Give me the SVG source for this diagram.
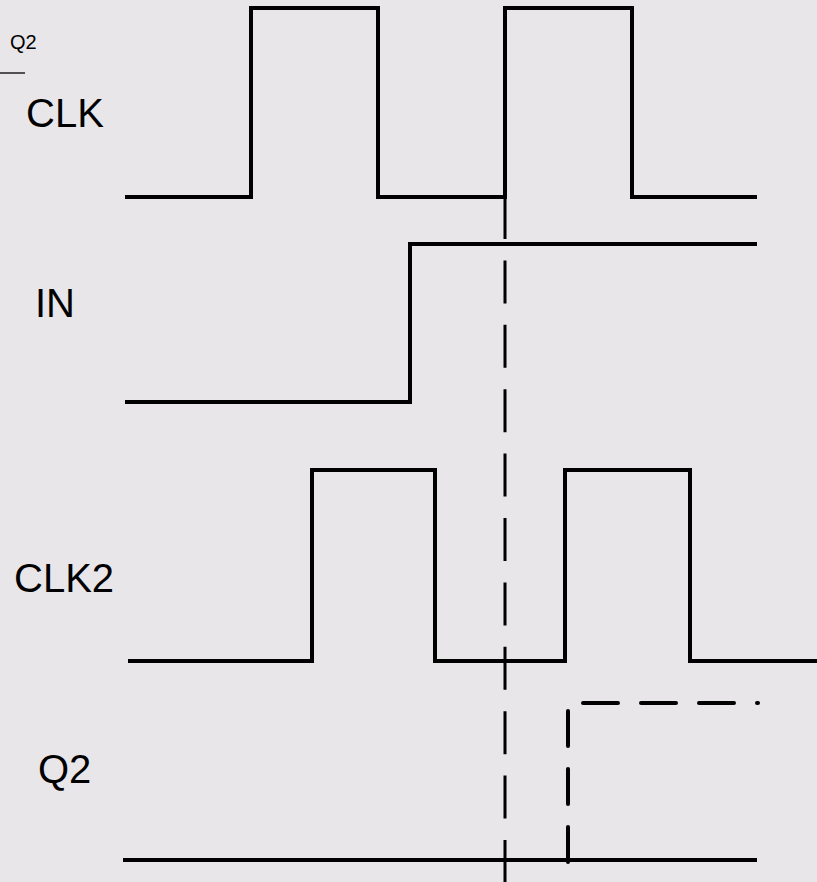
<svg xmlns="http://www.w3.org/2000/svg" width="817" height="882" viewBox="0 0 817 882">
  <style>
    .bg { fill: #e8e6e9; }
    .wave { fill: none; stroke: #000; stroke-width: 4; stroke-linejoin: miter; stroke-linecap: butt; }
    .lbl { font-family: "Liberation Sans", Arial, sans-serif; font-size: 40px; fill: #000; }
    .small { font-family: "Liberation Sans", Arial, sans-serif; font-size: 20px; fill: #000; }
    .marker { fill: none; stroke: #000; stroke-width: 3; stroke-dasharray: 43 21.4; }
    .q2dash { fill: none; stroke: #000; stroke-width: 4; stroke-linecap: round; stroke-dasharray: 35 23; }
  </style>
  <rect class="bg" x="0" y="0" width="817" height="882"/>

  <g id="note-q2bar">
    <text class="small" x="10" y="49">Q2</text>
    <line x1="0" y1="73" x2="25" y2="73" stroke="#000" stroke-width="1.3"/>
  </g>

  <g id="sig-clk">
    <text class="lbl" x="26" y="127">CLK</text>
    <path class="wave" d="M125,197 H251 V8 H378 V197 H505 V8 H632 V197 H757"/>
  </g>

  <g id="sig-in">
    <text class="lbl" x="35" y="317">IN</text>
    <path class="wave" d="M125,402 H410 V244 H757"/>
  </g>

  <g id="sig-clk2">
    <text class="lbl" x="14" y="592">CLK2</text>
    <path class="wave" d="M128,661 H312 V470 H435 V661 H565 V470 H690 V661 H817"/>
  </g>

  <g id="sig-q2">
    <text class="lbl" x="38" y="783">Q2</text>
    <path class="wave" d="M123,860 H757"/>
    <path class="q2dash" d="M568,862 V703 H758"/>
  </g>

  <g id="connectors">
    <line class="marker" x1="505" y1="196" x2="505" y2="882"/>
  </g>
</svg>
